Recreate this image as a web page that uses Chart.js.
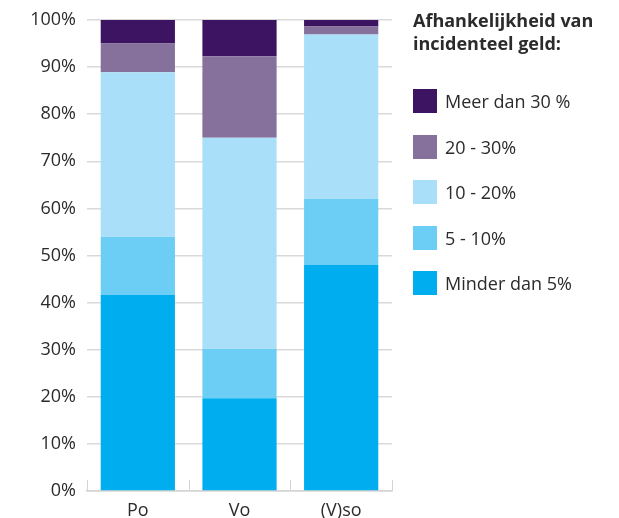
<!DOCTYPE html>
<html><head><meta charset="utf-8">
<script src="https://cdn.jsdelivr.net/npm/chart.js@4"></script>
<style>
html,body{margin:0;padding:0;background:#fff;}
#wrap{position:relative;width:619px;height:518px;}
#legend{position:absolute;left:413px;top:9px;font-family:"Open Sans",sans-serif;color:#2b2b2b;}
#legend .title{font-weight:bold;font-size:18px;line-height:23px;margin:0 0 34px 0;}
#legend .item{display:flex;align-items:center;height:24px;margin-bottom:21.5px;font-size:18px;}
#legend .box{width:24px;height:24px;margin-right:8px;flex:none;}
</style>
</head><body>
<div id="wrap"><canvas id="c" width="619" height="518"></canvas><div id="legend"></div></div>
<script>
const categories = ["Po", "Vo", "(V)so"];
const seriesNames = ["Minder dan 5%", "5 - 10%", "10 - 20%", "20 - 30%", "Meer dan 30 %"];
const minder5 = [41.6, 19.7, 48.0];
const van5tot10 = [12.4, 10.5, 14.0];
const van10tot20 = [34.9, 44.8, 34.9];
const van20tot30 = [6.1, 17.3, 1.7];
const meer30 = [5.0, 7.7, 1.4];
const legendTitle = ["Afhankelijkheid van", "incidenteel geld:"];
const colors = ["#00aeef", "#6dcef5", "#aadff9", "#85719b", "#3d1461"];

const values = [minder5, van5tot10, van10tot20, van20tot30, meer30];

const upTicks = {
  id: 'upTicks',
  afterDraw(chart) {
    const x = chart.scales.x, ctx = chart.ctx;
    const bottom = chart.chartArea.bottom;
    ctx.save();
    ctx.strokeStyle = '#d4d4d4';
    ctx.lineWidth = 1;
    for (let i = 0; i <= categories.length; i++) {
      const px = Math.round(x.getPixelForValue(i - 0.5)) + 0.5;
      ctx.beginPath();
      ctx.moveTo(px, bottom);
      ctx.lineTo(px, bottom - 11);
      ctx.stroke();
    }
    ctx.restore();
  }
};

const chart = new Chart(document.getElementById('c'), {
  type: 'bar',
  data: {
    labels: categories,
    datasets: values.map((v, i) => ({
      label: seriesNames[i], data: v, backgroundColor: colors[i], borderWidth: 0,
      barPercentage: 0.73, categoryPercentage: 1
    }))
  },
  options: {
    responsive: false, animation: false,
    layout: { padding: { top: 3, right: 227, left: 0, bottom: 0 } },
    plugins: { legend: { display: false }, tooltip: { enabled: false } },
    scales: {
      x: {
        stacked: true, offset: true,
        grid: { display: false },
        border: { display: true, color: '#d4d4d4', width: 1.5 },
        ticks: { color: '#2b2b2b', font: { family: 'Open Sans', size: 18 }, padding: 1 },
        afterFit(s) { s.height = 27; }
      },
      y: {
        stacked: true, min: 0, max: 100,
        ticks: { stepSize: 10, callback: v => v + '%', color: '#2b2b2b', font: { family: 'Open Sans', size: 18, lineHeight: 1 }, padding: 11 },
        grid: { color: '#d9d9d9', lineWidth: 1.5, drawTicks: false },
        border: { display: false },
        afterFit(s) { s.width = 87; }
      }
    }
  },
  plugins: [upTicks]
});

const lg = document.getElementById('legend');
const t = document.createElement('div'); t.className = 'title';
t.innerHTML = legendTitle.join('<br>'); lg.appendChild(t);
chart.data.datasets.slice().reverse().forEach(ds => {
  const it = document.createElement('div'); it.className = 'item';
  const b = document.createElement('span'); b.className = 'box'; b.style.background = ds.backgroundColor;
  const s = document.createElement('span'); s.textContent = ds.label;
  it.appendChild(b); it.appendChild(s); lg.appendChild(it);
});
</script>
</body></html>
